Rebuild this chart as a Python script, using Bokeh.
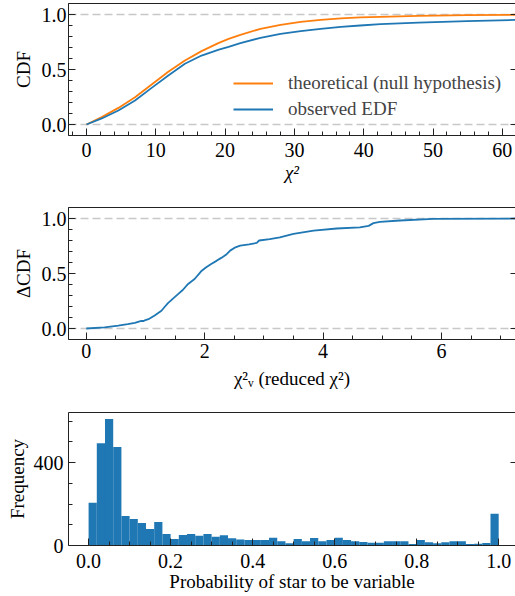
import numpy as np
from bokeh.plotting import figure
from bokeh.layouts import column
from bokeh.models import (Range1d, LinearAxis, FixedTicker, Span, Legend, LegendItem,
                          NumeralTickFormatter, CustomJSTickFormatter)
from bokeh.embed import file_html
from bokeh.resources import INLINE

# ---------------- data ----------------
chi2_x = [0, 2.2, 4.6, 7.0, 9.4, 11.8, 14.2, 16.6, 19.1, 20.5, 22.2, 25.1, 28.0, 30.9,
          33.8, 36.7, 39.5, 42.4, 47.9, 54.9, 62.0]
cdf_theoretical = [0, 0.067, 0.151, 0.248, 0.364, 0.479, 0.582, 0.667, 0.742, 0.778, 0.815,
                   0.870, 0.906, 0.933, 0.952, 0.964, 0.973, 0.979, 0.988, 0.994, 0.998]
cdf_observed = [0, 0.055, 0.127, 0.218, 0.333, 0.445, 0.552, 0.627, 0.680, 0.705, 0.739,
                0.788, 0.824, 0.848, 0.870, 0.888, 0.900, 0.912, 0.927, 0.939, 0.951]

red_chi2_x = [0, 0.31, 0.54, 0.70, 0.82, 0.93, 0.97, 1.00, 1.05, 1.155, 1.27, 1.33, 1.38,
              1.46, 1.55, 1.63, 1.72, 1.83, 1.94, 2.02, 2.11, 2.20, 2.28, 2.36, 2.43, 2.52,
              2.60, 2.75, 2.88, 2.92, 3.10, 3.27, 3.50, 3.84, 4.23, 4.62, 4.77, 4.85, 4.96,
              5.30, 5.86, 7.30]
delta_cdf = [0, 0.010, 0.027, 0.040, 0.052, 0.070, 0.068, 0.077, 0.085, 0.119, 0.161, 0.200,
             0.231, 0.270, 0.313, 0.350, 0.405, 0.450, 0.520, 0.555, 0.587, 0.615, 0.642,
             0.670, 0.708, 0.738, 0.754, 0.765, 0.778, 0.800, 0.812, 0.829, 0.860, 0.890,
             0.909, 0.920, 0.933, 0.958, 0.970, 0.982, 0.997, 1.0]

hist_counts = [206, 494, 611, 475, 143, 128, 109, 80, 114, 55,
               31, 51, 56, 47, 56, 42, 50, 35, 29, 26,
               26, 26, 37, 21, 11, 31, 21, 36, 21, 27,
               37, 27, 21, 17, 13, 13, 21, 21, 21, 7,
               27, 16, 11, 16, 21, 21, 7, 8, 12, 153]
bin_lo, bin_hi, n_bins = 0.0, 1.0, 50

FONT = "Liberation Serif"
BLUE = "#1f77b4"
ORANGE = "#ff7f0e"
SPINE = "#222222"
W = 515


def empty_fmt():
    return CustomJSTickFormatter(code="return ''")


def tick_style(ax):
    ax.major_tick_line_color = SPINE
    ax.minor_tick_line_color = SPINE
    ax.major_tick_in = 7
    ax.major_tick_out = 0
    ax.minor_tick_in = 4
    ax.minor_tick_out = 0


def style(p, xt, xm, yt, ym, xlabel, ylabel, xfmt=None, yfmt=None, xstand=4, xlstand=2,
          ystand=2, ylstand=1, xlstyle="normal"):
    p.outline_line_color = None
    p.xgrid.visible = False
    p.ygrid.visible = False
    p.background_fill_color = "white"
    p.border_fill_color = "white"
    p.min_border_left = 68
    p.min_border_right = 0
    bx = p.below[0]
    ly = p.left[0]
    for ax, t, m in ((bx, xt, xm), (ly, yt, ym)):
        ax.ticker = FixedTicker(ticks=t, minor_ticks=m)
        ax.axis_line_color = SPINE
        ax.axis_line_width = 1
        tick_style(ax)
        ax.major_label_text_font = FONT
        ax.major_label_text_font_size = "20px"
        ax.major_label_text_color = "black"
        ax.axis_label_text_font = FONT
        ax.axis_label_text_font_size = "19px"
        ax.axis_label_text_font_style = "normal"
        ax.axis_label_text_color = "black"
    bx.axis_label_text_font_style = xlstyle
    bx.major_label_standoff = xstand
    bx.axis_label_standoff = xlstand
    ly.major_label_standoff = ystand
    ly.axis_label_standoff = ylstand
    bx.axis_label = xlabel
    ly.axis_label = ylabel
    if xfmt is not None:
        bx.formatter = xfmt
    if yfmt is not None:
        ly.formatter = yfmt
    # right side: inward major ticks only (the right spine lies past the picture edge)
    r = LinearAxis(ticker=FixedTicker(ticks=yt), formatter=empty_fmt())
    r.major_label_standoff = 0
    r.axis_line_color = None
    tick_style(r)
    r.major_tick_in = 5
    p.add_layout(r, "right")
    # top spine
    t = LinearAxis(ticker=FixedTicker(ticks=[]), formatter=empty_fmt())
    t.major_label_standoff = 0
    t.axis_line_color = SPINE
    t.axis_line_width = 1
    t.major_tick_in = 0
    t.major_tick_out = 0
    t.minor_tick_in = 0
    t.minor_tick_out = 0
    p.add_layout(t, "above")


def dashed(p, loc):
    p.add_layout(Span(location=loc, dimension="width", line_color="#c8c8c8",
                      line_dash="8 4", line_width=1.5, level="underlay"))


# ---------------- panel 1 ----------------
p1 = figure(width=W, height=197, output_backend="svg", toolbar_location=None,
            x_range=Range1d(-2.6, 61.9), y_range=Range1d(-0.1, 1.1))
p1.min_border_top = 3
p1.min_border_bottom = 62
style(p1, list(range(0, 61, 10)), [v for v in range(-2, 63, 2) if v % 10],
      [0, 0.5, 1.0], [-0.1, 0.1, 0.2, 0.3, 0.4, 0.6, 0.7, 0.8, 0.9, 1.1],
      "χ²", "CDF",
      yfmt=NumeralTickFormatter(format="0.0"), xstand=7, xlstand=2, ylstand=5,
      xlstyle="italic")
dashed(p1, 0)
dashed(p1, 1)
r_th = p1.line(chi2_x, cdf_theoretical, line_color=ORANGE, line_width=1.8)
r_ob = p1.line(chi2_x, cdf_observed, line_color=BLUE, line_width=1.8)
leg = Legend(items=[LegendItem(label="theoretical (null hypothesis)", renderers=[r_th]),
                    LegendItem(label="observed EDF", renderers=[r_ob])],
             location=(165, 15), border_line_color=None, background_fill_alpha=0,
             label_text_font=FONT, label_text_font_size="19px", glyph_width=40,
             glyph_height=22, label_height=22, label_standoff=15, spacing=4,
             padding=0, margin=0)
p1.add_layout(leg)

# ---------------- panel 2 ----------------
p2 = figure(width=W, height=197, output_backend="svg", toolbar_location=None,
            x_range=Range1d(-0.30, 7.25), y_range=Range1d(-0.1, 1.1))
p2.min_border_top = 10
p2.min_border_bottom = 55
style(p2, [0, 2, 4, 6], [0.5, 1, 1.5, 2.5, 3, 3.5, 4.5, 5, 5.5, 6.5, 7],
      [0, 0.5, 1.0], [-0.1, 0.1, 0.2, 0.3, 0.4, 0.6, 0.7, 0.8, 0.9, 1.1],
      "χ²ᵥ (reduced χ²)", "ΔCDF",
      yfmt=NumeralTickFormatter(format="0.0"), xstand=4, xlstand=7, ylstand=5)
dashed(p2, 0)
dashed(p2, 1)
p2.line(red_chi2_x, delta_cdf, line_color=BLUE, line_width=1.8)

# ---------------- panel 3 ----------------
edges = np.linspace(bin_lo, bin_hi, n_bins + 1)
p3 = figure(width=W, height=202, output_backend="svg", toolbar_location=None,
            x_range=Range1d(-0.049, 1.041), y_range=Range1d(0, 642))
p3.min_border_top = 18
p3.min_border_bottom = 51
style(p3, [0, 0.2, 0.4, 0.6, 0.8, 1.0],
      [0.05, 0.1, 0.15, 0.25, 0.3, 0.35, 0.45, 0.5, 0.55, 0.65, 0.7, 0.75, 0.85, 0.9, 0.95],
      [0, 400], [100, 200, 300, 500, 600],
      "Probability of star to be variable", "Frequency",
      xfmt=NumeralTickFormatter(format="0.0"), xstand=8, xlstand=0, ystand=5, ylstand=3)
p3.quad(left=edges[:-1], right=edges[1:], bottom=0, top=hist_counts,
        fill_color=BLUE, line_color=None)

layout = column(p1, p2, p3, spacing=0)
open("out.html", "w").write(file_html(layout, INLINE))
